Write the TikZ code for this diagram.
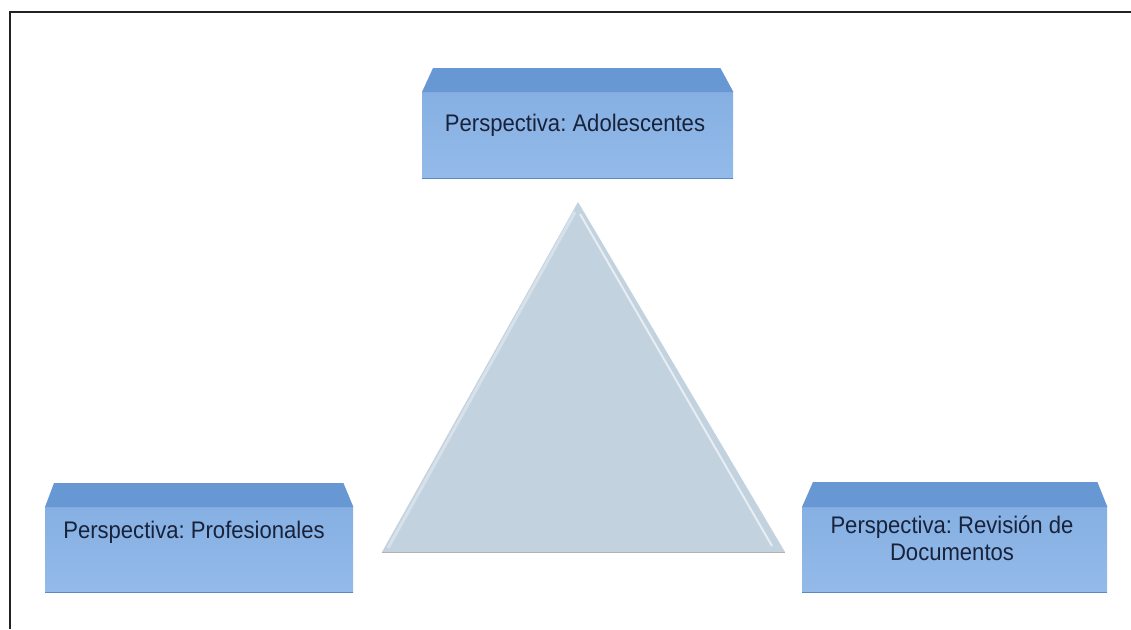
\documentclass[tikz,border=0pt]{standalone}
\usepackage{fontspec}
\setmainfont{Liberation Sans}[FakeStretch=0.92]
\usetikzlibrary{calc}
\definecolor{frontc}{HTML}{86B0E3}
\definecolor{frontd}{HTML}{93BAE9}
\definecolor{topc}{HTML}{6898D3}
\definecolor{edgec}{HTML}{5A88C4}
\definecolor{txtc}{HTML}{18223A}
\definecolor{tric}{HTML}{C3D2DF}
\definecolor{frame}{HTML}{222222}
\tikzset{
  front/.style={rectangle, inner sep=0pt, top color=frontc, bottom color=frontd},
  lbl/.style={text=txtc, font=\frenchspacing\fontsize{24}{27}\selectfont, align=center, inner sep=0pt},
}
\begin{document}
\begin{tikzpicture}[x=1pt,y=-1pt]
\useasboundingbox[fill=white] (0,0) rectangle (1131,629);
% frame
\draw[frame, line width=2pt] (10,629) -- (10,12) -- (1131,12);
% triangle
\fill[tric] (578,202) -- (785,552) -- (382,552) -- cycle;
\draw[white, opacity=0.6, line width=2pt] (580,214) -- (772,546);
\draw[white, opacity=0.35, line width=3pt] (575,212) -- (388,548);
\draw[black!30, line width=1pt] (382,552) -- (785,552);
% top box
\node[front, minimum width=311pt, minimum height=86pt, anchor=north west] (adol) at (422,92) {};
\fill[topc] (adol.north west) -- ++(11,-24) -- ($(adol.north east)+(-13,-24)$) -- (adol.north east) -- cycle;
\draw[edgec, line width=1.5pt] (adol.south west) -- (adol.south east);
\node[lbl] (adolT) at (575,125) {Perspectiva: Adolescentes};
% left box
\node[front, minimum width=308pt, minimum height=85pt, anchor=north west] (prof) at (45,507) {};
\fill[topc] (prof.north west) -- ++(9,-24) -- ($(prof.north east)+(-10,-24)$) -- (prof.north east) -- cycle;
\draw[edgec, line width=1.5pt] (prof.south west) -- (prof.south east);
\node[lbl] (profT) at (194,532) {Perspectiva: Profesionales};
% right box
\node[front, minimum width=305pt, minimum height=85pt, anchor=north west] (rev) at (802,507) {};
\fill[topc] (rev.north west) -- ++(11,-25) -- ($(rev.north east)+(-10,-25)$) -- (rev.north east) -- cycle;
\draw[edgec, line width=1.5pt] (rev.south west) -- (rev.south east);
\node[lbl] (revT) at (952,538) {Perspectiva: Revisión de\\Documentos};
\end{tikzpicture}
\end{document}
